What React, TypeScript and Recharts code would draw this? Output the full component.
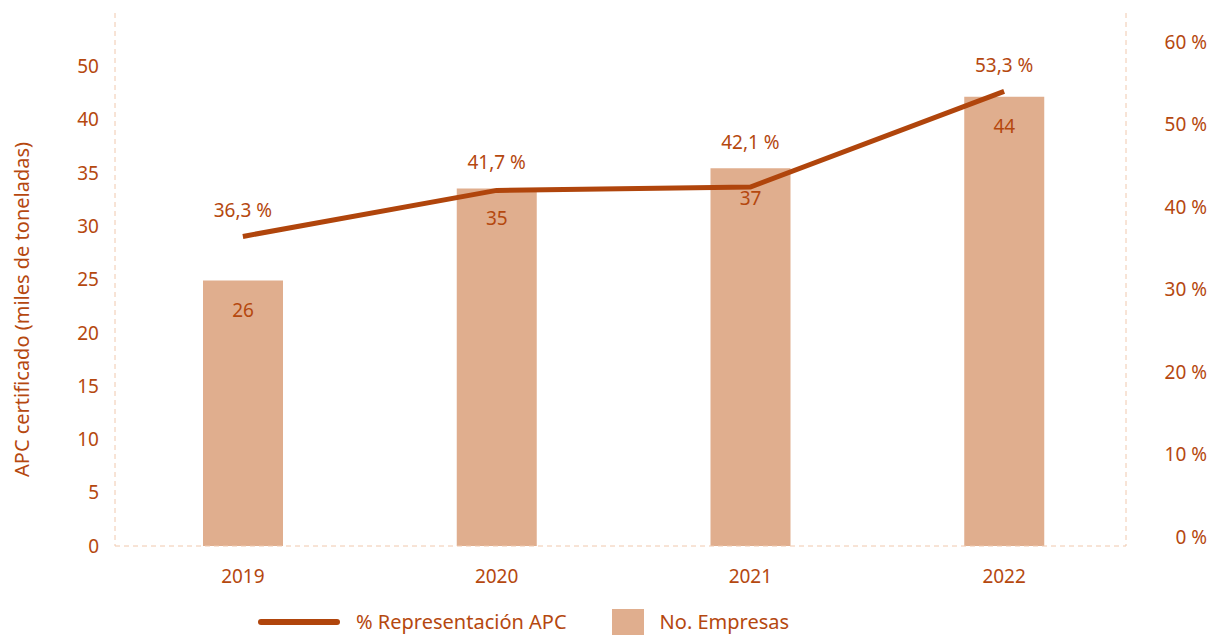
import * as R from "recharts";
import {
  ComposedChart,
  Bar,
  Line,
  XAxis,
  YAxis,
  Legend,
  LabelList,
} from "recharts";

const years = ["2019", "2020", "2021", "2022"];
const empresas = [26, 35, 37, 44];
const representacion = [36.3, 41.7, 42.1, 53.3];

const leftTicks = [0, 5, 10, 15, 20, 25, 30, 35, 40, 45];
const leftTickLabels = ["0", "5", "10", "15", "20", "25", "30", "35", "40", "50"];
const rightTicks = [0, 10, 20, 30, 40, 50, 60];

const data = years.map((year, i) => ({
  year,
  empresas: empresas[i],
  pct: representacion[i],
}));

const BAR_MAX = 52.2;
const FONT = "'Noto Sans', 'Open Sans', sans-serif";
const TEXT = "#b5480f";
const LINE = "#b0450c";
const BAR = "#e0ae8e";
const BORDER = "#f0c8ad";
const FS = 19;
const FS_TEXT = 20;

const fmtPct = (v: number) => v.toFixed(1).replace(".", ",") + " %";

const usePlot: any = (R as any).usePlotArea || (() => null);

const RightTick = ({ x, y, payload }: any) => (
  <text x={x} y={y - 9} dy="0.35em" textAnchor="end" fill={TEXT} fontSize={FS} fontFamily={FONT}>
    {payload.value} %
  </text>
);

// keep the percentage label clear of the bar beneath it
const PctLabel = ({ x, y, value, index }: any) => {
  const plot = usePlot();
  let top = y;
  if (plot && plot.height) {
    const barTop = plot.y + plot.height - (empresas[index] / BAR_MAX) * plot.height;
    top = Math.min(y, barTop);
  }
  return (
    <text x={x} y={top - 26} dy="0.35em" textAnchor="middle" fill={TEXT} fontSize={FS} fontFamily={FONT}>
      {fmtPct(value)}
    </text>
  );
};

const BarValueLabel = ({ x, y, width, value }: any) => (
  <text x={x + width / 2} y={y + 30} dy="0.35em" textAnchor="middle" fill={TEXT} fontSize={FS} fontFamily={FONT}>
    {value}
  </text>
);

const AxisTitle = ({ viewBox }: any) => (
  <text
    transform={`translate(14, ${viewBox.y + viewBox.height / 2 + 30}) rotate(-90)`}
    dy="0.35em"
    textAnchor="middle"
    fill={TEXT}
    fontSize={FS_TEXT}
    fontFamily={FONT}
  >
    APC certificado (miles de toneladas)
  </text>
);

const LegendContent = () => (
  <div
    style={{
      display: "flex",
      alignItems: "center",
      paddingLeft: 250,
      paddingTop: 12,
      fontFamily: FONT,
      fontSize: FS_TEXT,
      color: TEXT,
    }}
  >
    <span
      style={{ width: 82, height: 6, borderRadius: 3, background: LINE, display: "inline-block" }}
    />
    <span style={{ marginLeft: 16 }}>% Representación APC</span>
    <span
      style={{ width: 32, height: 26, background: BAR, display: "inline-block", marginLeft: 45 }}
    />
    <span style={{ marginLeft: 16 }}>No. Empresas</span>
  </div>
);

export default function App() {
  return (
    <div style={{ fontFamily: FONT }}>
      <ComposedChart
        width={1207}
        height={627}
        data={data}
        margin={{ top: 5, right: 0, bottom: 0, left: 0 }}
      >
        <XAxis
          dataKey="year"
          padding={{ left: 1, right: -5 }}
          axisLine={{ stroke: BORDER, strokeDasharray: "5 4" }}
          tickLine={false}
          tickSize={0}
          tickMargin={24}
          height={50}
          tick={{ fill: TEXT, fontSize: FS, fontFamily: FONT }}
        />
        <YAxis
          yAxisId="left"
          width={107}
          type="number"
          domain={[0, 50]}
          allowDataOverflow
          ticks={leftTicks}
          interval={0}
          tickFormatter={(v: number) => leftTickLabels[leftTicks.indexOf(v)] ?? String(v)}
          axisLine={{ stroke: BORDER, strokeDasharray: "5 4" }}
          tickLine={false}
          tickSize={0}
          tickMargin={16}
          tick={{ fill: TEXT, fontSize: FS, fontFamily: FONT }}
          label={<AxisTitle />}
        />
        <YAxis
          yAxisId="right"
          orientation="right"
          width={89}
          type="number"
          domain={[0, 64.6]}
          allowDataOverflow
          ticks={rightTicks}
          interval={0}
          axisLine={{ stroke: BORDER, strokeDasharray: "5 4" }}
          tickLine={false}
          tickSize={0}
          tickMargin={81}
          tick={<RightTick />}
        />
        <YAxis yAxisId="bars" hide width={0} domain={[0, BAR_MAX]} />
        <YAxis yAxisId="line" orientation="right" hide width={0} domain={[0, 62.5]} />
        <Legend verticalAlign="bottom" height={39} content={<LegendContent />} />
        <Bar
          yAxisId="bars"
          dataKey="empresas"
          name="No. Empresas"
          fill={BAR}
          barSize={80}
          isAnimationActive={false}
        >
          <LabelList dataKey="empresas" content={<BarValueLabel />} />
        </Bar>
        <Line
          yAxisId="line"
          dataKey="pct"
          name="% Representación APC"
          type="linear"
          stroke={LINE}
          strokeWidth={5}
          dot={false}
          activeDot={false}
          isAnimationActive={false}
        >
          <LabelList dataKey="pct" content={<PctLabel />} />
        </Line>
      </ComposedChart>
    </div>
  );
}
